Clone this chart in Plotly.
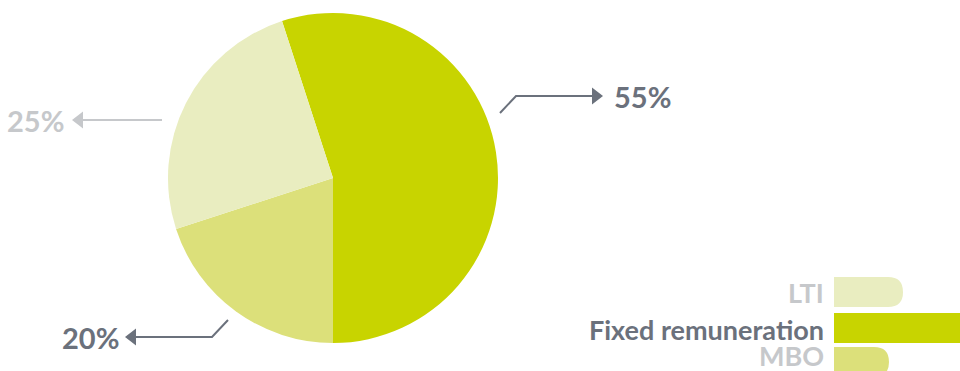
import plotly.graph_objects as go

# Pay-mix components
labels = ["Fixed remuneration", "MBO", "LTI"]
values = [55, 20, 25]
colors = ["#c8d400", "#dce07a", "#e9edc0"]

# Legend order shown at bottom right
legend_order = ["LTI", "Fixed remuneration", "MBO"]

W, H = 960, 371
FONT = "Lato, Roboto, sans-serif"
DARK = "#6b717c"
LIGHT = "#c6c8cb"

# pie geometry (pixels)
cx, cy, r = 333, 178, 165

fig = go.Figure()
fig.add_trace(go.Pie(
    labels=labels,
    values=values,
    sort=False,
    direction="clockwise",
    rotation=-18,
    marker=dict(colors=colors, line=dict(width=0)),
    textinfo="none",
    hoverinfo="label+percent",
    showlegend=False,
    domain=dict(x=[(cx - r) / W, (cx + r) / W],
                y=[(H - cy - r) / H, (H - cy + r) / H]),
))

# invisible pixel-space axes for callouts and legend
fig.add_trace(go.Scatter(x=[0, W], y=[0, H], mode="markers",
                         marker=dict(opacity=0), hoverinfo="skip",
                         showlegend=False))

val = dict(zip(labels, values))
col = dict(zip(labels, colors))

shapes = []
annotations = []


def polyline(pts, color):
    d = "M " + " L ".join(f"{x},{y}" for x, y in pts)
    shapes.append(dict(type="path", path=d, xref="x", yref="y",
                       line=dict(color=color, width=2)))


def arrowhead(tipx, tipy, direction, color, w=11, h=8.5):
    bx = tipx - w * direction
    d = f"M {tipx},{tipy} L {bx},{tipy - h} L {bx},{tipy + h} Z"
    shapes.append(dict(type="path", path=d, xref="x", yref="y",
                       fillcolor=color, line=dict(width=0)))


def label(text, x, y, color, anchor, size=28):
    annotations.append(dict(text=f"<b>{text}</b>", x=x, y=y, xref="x", yref="y",
                            showarrow=False, xanchor=anchor, yanchor="middle",
                            font=dict(family=FONT, size=size, color=color)))


# Fixed remuneration callout
polyline([(500, 113), (516, 96), (593, 96)], DARK)
arrowhead(603, 96, 1, DARK)
label(f"{val['Fixed remuneration']}%", 612, 96, DARK, "left", 29)

# LTI callout
polyline([(162, 120), (82, 120)], LIGHT)
arrowhead(72, 120, -1, LIGHT)
label(f"{val['LTI']}%", 66, 120, LIGHT, "right", 29)

# MBO callout
polyline([(228, 320), (212, 337), (135, 337)], DARK)
arrowhead(125, 337, -1, DARK)
label(f"{val['MBO']}%", 121, 337, DARK, "right", 29)

# legend bars with rounded right ends
bars = {
    "LTI": dict(y0=277, y1=307, x1=903, ty=292, text=LIGHT),
    "Fixed remuneration": dict(y0=313, y1=343, x1=1000, ty=329, text=DARK),
    "MBO": dict(y0=347, y1=377, x1=889, ty=355, text=LIGHT),
}
x0 = 834
for name in legend_order:
    b = bars[name]
    y0, y1, x1 = b["y0"], b["y1"], b["x1"]
    rad = (y1 - y0) / 2 if name != "Fixed remuneration" else 0
    if rad:
        d = (f"M {x0},{y0} L {x1 - rad},{y0} "
             f"Q {x1},{y0} {x1},{y0 + rad} Q {x1},{y1} {x1 - rad},{y1} "
             f"L {x0},{y1} Z")
    else:
        d = f"M {x0},{y0} L {x1},{y0} L {x1},{y1} L {x0},{y1} Z"
    shapes.append(dict(type="path", path=d, xref="x", yref="y",
                       fillcolor=col[name], line=dict(width=0), layer="below"))
    label(name, 826, b["ty"], b["text"], "right", 27)

fig.update_layout(
    width=W, height=H,
    margin=dict(l=0, r=0, t=0, b=0),
    paper_bgcolor="white", plot_bgcolor="rgba(0,0,0,0)",
    xaxis=dict(range=[0, W], visible=False, fixedrange=True),
    yaxis=dict(range=[H, 0], visible=False, fixedrange=True),
    shapes=shapes,
    annotations=annotations,
)

fig.write_html("out.html")
